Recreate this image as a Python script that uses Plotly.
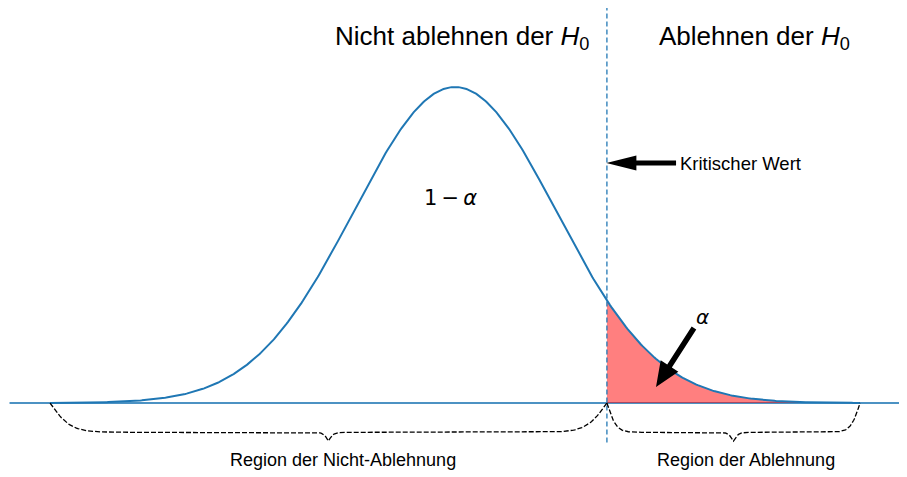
import numpy as np
import plotly.graph_objects as go

# Normalverteilung und kritischer Wert
mu = 0.0
sigma = 1.0
x_start, x_end = -4.0, 4.0
kritischer_wert = 1.5

# Achsenbereich wie im Original (Achsen selbst unsichtbar)
x_lim = [-4.4, 4.4]
y_lim = [-0.05, 0.5]
x_range = [-4.415, 4.464]
y_range = [-0.0934, 0.4987]
fig_w, fig_h = 899, 469

# Texte
titel_links = "Nicht ablehnen der <i>H</i><sub>0</sub>"
titel_rechts = "Ablehnen der <i>H</i><sub>0</sub>"
titel_y = 0.461
titel_x = [0.064, 2.953]
label_krit = "Kritischer Wert"
label_krit_pos = [2.20, 0.303]
label_1ma = "1\u2009−\u2009<i>α</i>"
label_1ma_pos = [-0.04, 0.259]
label_alpha = "<i>α</i>"
label_alpha_pos = [2.444, 0.109]
regionen = ["Region der Nicht-Ablehnung", "Region der Ablehnung"]
regionen_x = [-1.106, 2.874]
regionen_y = -0.072

# Pfeile: (von, nach)
pfeil_krit = [(2.183, 0.303), (kritischer_wert - 0.005, 0.303)]
pfeil_alpha = [(2.36, 0.0947), (1.985, 0.0202)]

blau = "#1f77b4"
blau_hell = "rgba(31,119,180,0.8)"

# Pixel pro Dateneinheit (fuer Pfeilspitzen)
sx = fig_w / (x_range[1] - x_range[0])
sy = fig_h / (y_range[1] - y_range[0])


def klammer(x0, x1, tiefe=0.037, spitze=0.011):
    """geschweifte Klammer nach unten zwischen x0 und x1"""
    L = x1 - x0
    k1 = 27.0 / L
    k2 = 20.0
    xm = (x0 + x1) / 2
    xs = np.linspace(x0, x1, 401)
    d = np.minimum(xs - x0, x1 - xs)
    dm = np.abs(xs - xm)
    ys = -tiefe * np.tanh(k1 * d) - spitze * (1 - np.tanh(k2 * dm))
    return xs, ys


def pfeil(von, nach, schaft=5.0, kopf_l=28.0, kopf_b=15.0):
    """Pfeil als Polygon, Masse in Pixel"""
    p0 = np.array([von[0] * sx, von[1] * sy])
    p1 = np.array([nach[0] * sx, nach[1] * sy])
    u = (p1 - p0) / np.linalg.norm(p1 - p0)
    n = np.array([-u[1], u[0]])
    b = p1 - u * kopf_l
    pts = [p0 + n * schaft / 2, b + n * schaft / 2, b + n * kopf_b / 2, p1,
           b - n * kopf_b / 2, b - n * schaft / 2, p0 - n * schaft / 2, p0 + n * schaft / 2]
    pts = np.array(pts)
    return pts[:, 0] / sx, pts[:, 1] / sy


x = np.linspace(x_start, x_end, 600)
y = np.exp(-0.5 * ((x - mu) / sigma) ** 2) / (sigma * np.sqrt(2 * np.pi))

fig = go.Figure()

# Grundlinie
fig.add_trace(go.Scatter(x=x_lim, y=[0, 0], mode="lines",
                         line=dict(color=blau_hell, width=2), hoverinfo="skip"))

# rote Flaeche (alpha)
mask = x >= kritischer_wert
y_krit = np.exp(-0.5 * ((kritischer_wert - mu) / sigma) ** 2) / (sigma * np.sqrt(2 * np.pi))
xf = np.concatenate([[kritischer_wert], x[mask], [x_end, kritischer_wert]])
yf = np.concatenate([[y_krit], y[mask], [0, 0]])
fig.add_trace(go.Scatter(x=xf, y=yf, mode="lines", fill="toself",
                         fillcolor="rgba(255,0,0,0.5)", line=dict(width=0),
                         hoverinfo="skip"))

# Dichtekurve
fig.add_trace(go.Scatter(x=x, y=y, mode="lines", line=dict(color=blau, width=2),
                         hoverinfo="skip"))

# kritischer Wert
fig.add_trace(go.Scatter(x=[kritischer_wert, kritischer_wert], y=y_lim, mode="lines",
                         line=dict(color=blau_hell, width=1.6, dash="5px,3px"),
                         hoverinfo="skip"))

# Klammern
for a, b in [(x_start, kritischer_wert), (kritischer_wert, x_end)]:
    bx, by = klammer(a, b)
    fig.add_trace(go.Scatter(x=bx, y=by, mode="lines",
                             line=dict(color="black", width=1.3, dash="5px,2px"),
                             hoverinfo="skip"))

# Pfeile
px_, py_ = pfeil(*pfeil_krit, schaft=5, kopf_l=30, kopf_b=15)
fig.add_trace(go.Scatter(x=px_, y=py_, mode="lines", fill="toself", fillcolor="black",
                         line=dict(width=0, color="black"), hoverinfo="skip"))
px_, py_ = pfeil(*pfeil_alpha, schaft=5.5, kopf_l=25, kopf_b=21)
fig.add_trace(go.Scatter(x=px_, y=py_, mode="lines", fill="toself", fillcolor="black",
                         line=dict(width=0, color="black"), hoverinfo="skip"))

# Texte
sans = "Liberation Sans, Arial"
fig.add_annotation(x=titel_x[0], y=titel_y, text=titel_links, showarrow=False,
                   font=dict(family=sans, size=26, color="black"))
fig.add_annotation(x=titel_x[1], y=titel_y, text=titel_rechts, showarrow=False,
                   font=dict(family=sans, size=26, color="black"))
fig.add_annotation(x=label_1ma_pos[0], y=label_1ma_pos[1], text=label_1ma, showarrow=False,
                   font=dict(family="DejaVu Sans", size=21, color="black"))
fig.add_annotation(x=label_krit_pos[0], y=label_krit_pos[1], text=label_krit, showarrow=False,
                   xanchor="left", font=dict(family=sans, size=18.5, color="black"))
fig.add_annotation(x=label_alpha_pos[0], y=label_alpha_pos[1], text=label_alpha, showarrow=False,
                   font=dict(family="DejaVu Sans", size=20, color="black"))
for t, xx in zip(regionen, regionen_x):
    fig.add_annotation(x=xx, y=regionen_y, text=t, showarrow=False,
                       font=dict(family=sans, size=18, color="black"))

fig.update_xaxes(range=x_range, visible=False)
fig.update_yaxes(range=y_range, visible=False)
fig.update_layout(width=fig_w, height=fig_h, margin=dict(l=0, r=0, t=0, b=0),
                  plot_bgcolor="white", paper_bgcolor="white", showlegend=False)

fig.write_html("out.html")
